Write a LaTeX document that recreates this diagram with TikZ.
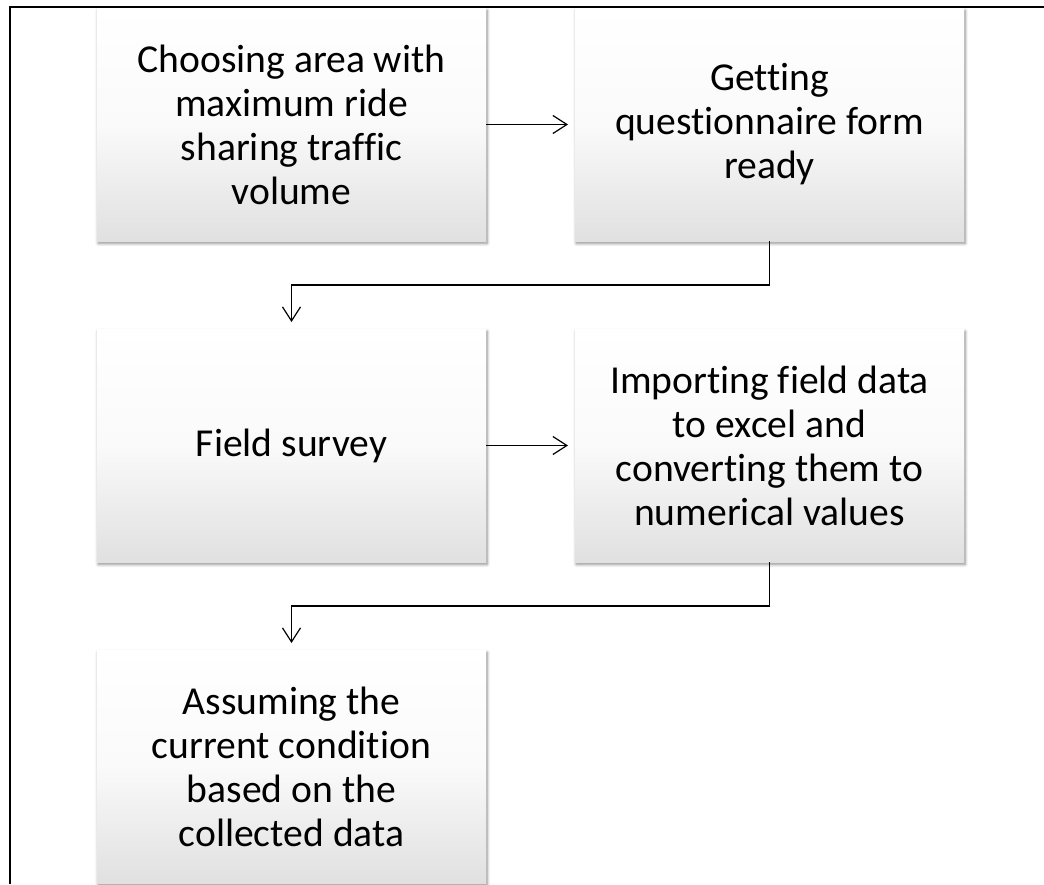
\documentclass[tikz,border=0pt]{standalone}
\usepackage{fontspec}
\setmainfont{Carlito}[Ligatures=NoCommon]
\usepackage{tikz}
\usetikzlibrary{arrows.meta, positioning, shadows.blur}

\begin{document}
\begin{tikzpicture}[
    node distance=44pt and 44.5pt,
    stage/.style={rectangle, minimum width=194.5pt, minimum height=116.5pt, inner sep=0pt, outer sep=0pt, align=center, font=\fontsize{19.8}{22}\selectfont, top color=white, bottom color=black!12, middle color=black!2, blur shadow={shadow xshift=0.6pt, shadow yshift=-1.2pt, shadow blur steps=6, shadow blur radius=1.5pt, shadow opacity=45}},
    arrow/.style={-{Straight Barb[length=7pt,width=9pt]}, line width=0.6pt, shorten >=3.5pt}
]
    \useasboundingbox (0,0) rectangle (522pt,-442pt);
    \coordinate (framebot) at (5pt,-442pt);
    \coordinate (frameright) at (522pt,-3.5pt);
    \draw[line width=0.8pt] (framebot) |- (frameright);

    \node[stage] (area) at (145.75pt,-62.25pt) {Choosing area with\\maximum ride\\sharing traffic\\volume};
    \node[stage, right=of area] (form) {Getting\\questionnaire form\\ready};
    \node[stage, below=of area] (survey) {Field survey};
    \node[stage, below=of form] (excel) {Importing field data\\to excel and\\converting them to\\numerical values};
    \node[stage, below=of survey] (assume) {Assuming the\\current condition\\based on the\\collected data};

    \draw[arrow] (area) -- (form);
    \draw[arrow] (form.south) -- ++(0,-22pt) -| (survey.north);
    \draw[arrow] (survey) -- (excel);
    \draw[arrow] (excel.south) -- ++(0,-22pt) -| (assume.north);
\end{tikzpicture}
\end{document}
